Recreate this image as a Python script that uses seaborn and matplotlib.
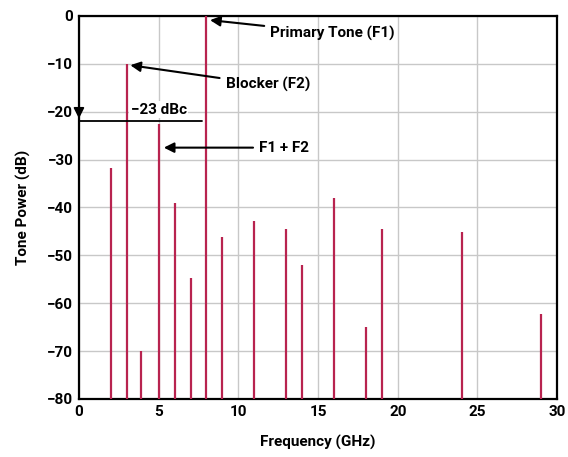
import matplotlib
matplotlib.use("Agg")
import matplotlib.pyplot as plt
import seaborn as sns
import pandas as pd

# tone spectrum
freq_ghz = [2, 3, 3.9, 5, 6, 7, 8, 9, 11, 13, 14, 16, 18, 19, 24, 29]
power_db = [-31.7, -10, -70, -22.5, -39.1, -54.7, 0, -46.2, -42.8, -44.4,
            -52.1, -38.0, -64.9, -44.4, -45.2, -62.3]
floor_db = -80

x_ticks = [0, 5, 10, 15, 20, 25, 30]
y_ticks = [0, -10, -20, -30, -40, -50, -60, -70, -80]

df = pd.DataFrame({"freq": freq_ghz, "power": power_db})

sns.set_style("whitegrid", {"grid.color": "#c8c8c8", "axes.edgecolor": "black"})
plt.rcParams["font.family"] = ["Roboto", "DejaVu Sans"]
plt.rcParams["font.weight"] = "bold"

fig, ax = plt.subplots(figsize=(5.68, 4.57), dpi=100)
fig.subplots_adjust(left=0.139, right=0.981, top=0.965, bottom=0.127)

ax.vlines(df["freq"], floor_db, df["power"], color="#b8234f", linewidth=1.6, zorder=3)

ax.set_xlim(0, 30)
ax.set_ylim(-80, 0)
ax.set_xticks(x_ticks)
ax.set_yticks(y_ticks)
ax.set_yticklabels(["0"] + ["\u2212" + str(-v) for v in y_ticks[1:]])
ax.tick_params(labelsize=11, length=0, pad=4, colors="black")
for lab in ax.get_xticklabels() + ax.get_yticklabels():
    lab.set_fontweight("bold")
ax.grid(True, linewidth=1.0)
for s in ax.spines.values():
    s.set_linewidth(1.6)
    s.set_color("black")

ax.set_xlabel("Frequency (GHz)", fontsize=11, fontweight="bold", labelpad=12, color="black")
ax.set_ylabel("Tone Power (dB)", fontsize=11, fontweight="bold", labelpad=12, color="black")

arrow = dict(arrowstyle="-|>", color="black", lw=1.5, mutation_scale=15)
txt = dict(fontsize=11, fontweight="bold", va="center", ha="left", color="black")
ax.annotate("Primary Tone (F1)", xy=(8.05, -0.8), xytext=(12.0, -3.6),
            arrowprops=arrow, **txt)
ax.annotate("Blocker (F2)", xy=(3.05, -10.2), xytext=(9.2, -14.4),
            arrowprops=arrow, **txt)
ax.annotate("F1 + F2", xy=(5.15, -27.5), xytext=(11.3, -27.5),
            arrowprops=arrow, **txt)

# -23 dBc marker
ax.plot([0, 7.7], [-22, -22], color="black", lw=1.3, zorder=4, clip_on=False)
ax.annotate("", xy=(0, -22), xytext=(0, -18.4),
            arrowprops=dict(arrowstyle="-|>", color="black", lw=1.2, mutation_scale=16),
            annotation_clip=False)
ax.text(5.0, -19.6, "\u221223 dBc", fontsize=11, fontweight="bold", ha="center", va="center",
        color="black", bbox=dict(facecolor="white", edgecolor="none", pad=1), zorder=5)

fig.savefig("out.png", dpi=100)
